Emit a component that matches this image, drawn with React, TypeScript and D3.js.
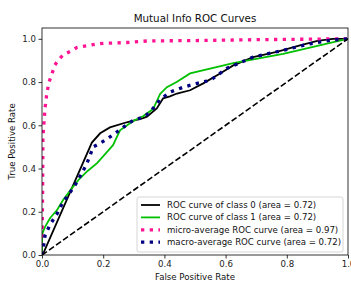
import { useEffect, useRef } from 'react';
import * as d3 from 'd3';

// ROC points: [fpr, tpr]
const class0: [number, number][] = [
  [0, 0], [0.005, 0.01], [0.163, 0.52], [0.19, 0.563], [0.222, 0.59], [0.277, 0.614],
  [0.33, 0.633], [0.343, 0.64], [0.375, 0.678], [0.396, 0.725], [0.418, 0.734],
  [0.441, 0.747], [0.484, 0.762], [0.527, 0.794], [0.582, 0.84], [0.625, 0.877],
  [0.69, 0.915], [0.767, 0.94], [0.843, 0.97], [0.9, 0.99], [0.95, 1.0], [1, 1],
];
const class1: [number, number][] = [
  [0, 0], [0, 0.09], [0.003, 0.106], [0.01, 0.13], [0.026, 0.17], [0.049, 0.208],
  [0.069, 0.254], [0.101, 0.315], [0.124, 0.355], [0.15, 0.39], [0.18, 0.425],
  [0.212, 0.476], [0.232, 0.508], [0.255, 0.577], [0.298, 0.62], [0.33, 0.642],
  [0.363, 0.675], [0.386, 0.745], [0.408, 0.776], [0.44, 0.8], [0.484, 0.84],
  [0.625, 0.887], [0.788, 0.93], [0.984, 0.995], [1, 1],
];
const microAvg: [number, number][] = [
  [0, 0], [0.002, 0.3], [0.003, 0.545], [0.01, 0.68], [0.016, 0.75], [0.023, 0.8],
  [0.033, 0.84], [0.042, 0.878], [0.052, 0.9], [0.069, 0.925], [0.092, 0.942],
  [0.114, 0.96], [0.134, 0.965], [0.19, 0.978], [0.278, 0.983], [0.343, 0.99],
  [0.5, 0.992], [0.7, 0.996], [1, 1],
];
const macroAvg: [number, number][] = [
  [0, 0], [0.005, 0.04], [0.01, 0.09], [0.026, 0.14], [0.049, 0.19], [0.069, 0.245],
  [0.092, 0.29], [0.114, 0.337], [0.131, 0.38], [0.147, 0.425], [0.157, 0.46],
  [0.167, 0.5], [0.19, 0.517], [0.216, 0.54], [0.239, 0.563], [0.265, 0.59],
  [0.298, 0.623], [0.33, 0.637], [0.353, 0.66], [0.379, 0.707], [0.396, 0.73],
  [0.418, 0.753], [0.461, 0.776], [0.507, 0.794], [0.55, 0.808], [0.605, 0.864],
  [0.69, 0.915], [0.788, 0.947], [0.876, 0.977], [0.951, 0.995], [1, 1],
];
const chance: [number, number][] = [[0, 0], [1, 1]];

const xTicks = [0, 0.2, 0.4, 0.6, 0.8, 1.0];
const yTicks = [0, 0.2, 0.4, 0.6, 0.8, 1.0];

const legendLabels = [
  'ROC curve of class 0 (area = 0.72)',
  'ROC curve of class 1 (area = 0.72)',
  'micro-average ROC curve (area = 0.97)',
  'macro-average ROC curve (area = 0.72)',
];

const width = 351;
const height = 282;
const font = '"DejaVu Sans", sans-serif';
const fs = '8.6px';

export default function App() {
  const svgRef = useRef<SVGSVGElement>(null);

  useEffect(() => {
    if (!svgRef.current) return;
    const svg = d3.select(svgRef.current);
    svg.selectAll('*').remove();

    const margin = { top: 28, right: 3, bottom: 27, left: 42 };
    const innerWidth = width - margin.left - margin.right;
    const innerHeight = height - margin.top - margin.bottom;

    const x = d3.scaleLinear().domain([0, 1]).range([margin.left, margin.left + innerWidth]);
    const y = d3.scaleLinear().domain([0, 1.05]).range([margin.top + innerHeight, margin.top]);

    svg.append('rect').attr('width', width).attr('height', height).attr('fill', '#fff');

    const line = d3.line<[number, number]>().x(d => x(d[0])).y(d => y(d[1]));

    const series = [
      { data: class0, color: '#000000', width: 1.8, dash: null },
      { data: class1, color: '#00c000', width: 1.8, dash: null },
      { data: microAvg, color: '#ff1493', width: 3.3, dash: '3.3 5.4' },
      { data: macroAvg, color: '#000080', width: 3.3, dash: '3.3 5.4' },
    ];

    const plot = svg.append('g');
    plot.append('defs').append('clipPath').attr('id', 'clip')
      .append('rect')
      .attr('x', margin.left).attr('y', margin.top)
      .attr('width', innerWidth).attr('height', innerHeight);
    const lines = plot.append('g').attr('clip-path', 'url(#clip)');

    series.forEach(s => {
      lines.append('path')
        .datum(s.data)
        .attr('fill', 'none')
        .attr('stroke', s.color)
        .attr('stroke-width', s.width)
        .attr('stroke-dasharray', s.dash)
        .attr('d', line);
    });

    lines.append('path')
      .datum(chance)
      .attr('fill', 'none')
      .attr('stroke', '#000')
      .attr('stroke-width', 1.6)
      .attr('stroke-dasharray', '6 2.6')
      .attr('d', line);

    // Axes
    const xAxis = svg.append('g')
      .attr('transform', `translate(0,${margin.top + innerHeight})`)
      .call(d3.axisBottom(x).tickValues(xTicks).tickFormat(d3.format('.1f')).tickSizeOuter(0).tickSize(3.5).tickPadding(2.5));
    const yAxis = svg.append('g')
      .attr('transform', `translate(${margin.left},0)`)
      .call(d3.axisLeft(y).tickValues(yTicks).tickFormat(d3.format('.1f')).tickSizeOuter(0).tickSize(3.5).tickPadding(2.5));
    [xAxis, yAxis].forEach(a => {
      a.select('.domain').remove();
      a.selectAll('line').attr('stroke', '#000').attr('stroke-width', 0.8);
      a.selectAll('text').style('font-family', font).style('font-size', fs).attr('fill', '#222');
    });

    // Frame
    svg.append('rect')
      .attr('x', margin.left).attr('y', margin.top)
      .attr('width', innerWidth).attr('height', innerHeight)
      .attr('fill', 'none').attr('stroke', '#000').attr('stroke-width', 0.8);

    svg.append('text')
      .attr('x', margin.left + innerWidth / 2).attr('y', 22)
      .attr('text-anchor', 'middle')
      .style('font-family', font).style('font-size', '10.3px').attr('fill', '#111')
      .text('Mutual Info ROC Curves');

    svg.append('text')
      .attr('x', margin.left + innerWidth / 2).attr('y', 280)
      .attr('text-anchor', 'middle')
      .style('font-family', font).style('font-size', fs).attr('fill', '#111')
      .text('False Positive Rate');

    svg.append('text')
      .attr('transform', `translate(15,${margin.top + innerHeight / 2}) rotate(-90)`)
      .attr('text-anchor', 'middle')
      .style('font-family', font).style('font-size', fs).attr('fill', '#111')
      .text('True Positive Rate');

    // Legend
    const legend = svg.append('g').attr('transform', 'translate(137,197)');
    legend.append('rect')
      .attr('width', 206).attr('height', 55)
      .attr('rx', 2)
      .attr('fill', 'rgba(255,255,255,0.8)')
      .attr('stroke', '#ccc').attr('stroke-width', 0.8);
    const items = legend.selectAll('.legend-item')
      .data(series)
      .enter().append('g')
      .attr('class', 'legend-item')
      .attr('transform', (d, i) => `translate(0,${8 + i * 12.4})`);
    items.append('line')
      .attr('x1', 4).attr('x2', 23)
      .attr('stroke', d => d.color)
      .attr('stroke-width', d => d.width)
      .attr('stroke-dasharray', d => d.dash);
    items.append('text')
      .attr('x', 30).attr('dy', '0.35em')
      .style('font-family', font).style('font-size', fs).attr('fill', '#111')
      .text((d, i) => legendLabels[i]);
  }, []);

  return (
    <svg
      ref={svgRef}
      width={width}
      height={height}
      style={{ position: 'absolute', left: 0, top: 0 }}
    />
  );
}
